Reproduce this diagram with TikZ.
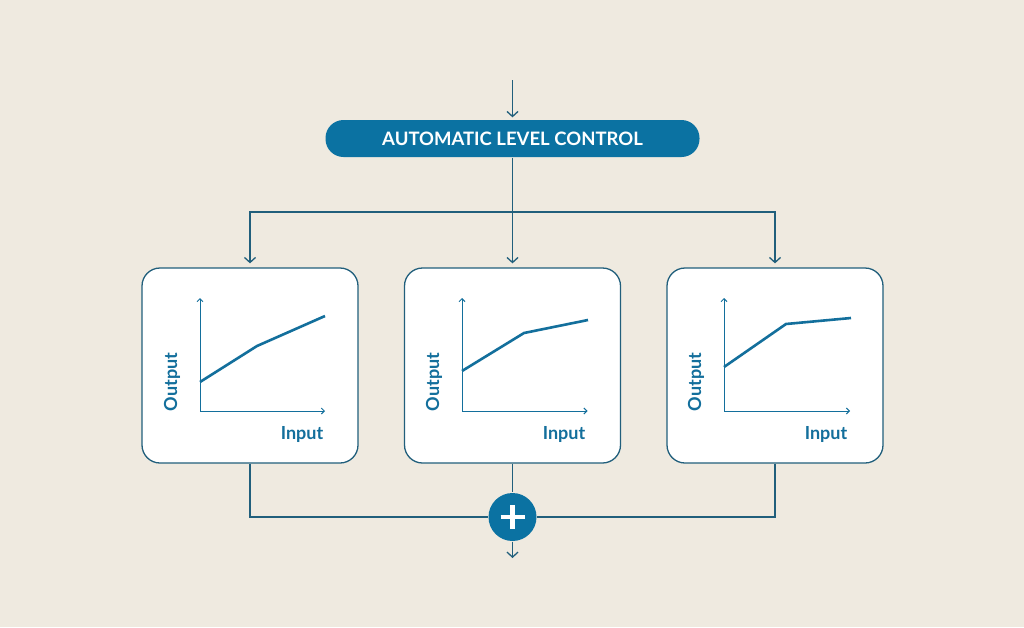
\documentclass[tikz,border=0pt]{standalone}
\usepackage{fontspec}
\setmainfont{Lato}
\usetikzlibrary{positioning,arrows.meta}

\definecolor{paper}{HTML}{EFEAE0}
\definecolor{alcblue}{HTML}{0B72A2}
\definecolor{wire}{HTML}{215F7C}
\definecolor{plotblue}{HTML}{136F9C}

\begin{document}
\begin{tikzpicture}[x=1pt,y=-1pt,>={Straight Barb[length=5pt,width=11pt]},line width=1.3pt,node distance=262.5pt,on grid,
	alc/.style={fill=alcblue,text=white,rounded corners=18pt,minimum width=374pt,minimum height=37pt,font=\fontsize{18.5}{20}\selectfont\bfseries},
	box/.style={draw=wire,fill=white,rounded corners=18pt,minimum width=216pt,minimum height=195pt},
	sum/.style={circle,fill=alcblue,minimum size=48pt,inner sep=0pt},
	axis/.style={draw=plotblue,line width=1pt,{Straight Barb[length=3pt,width=6pt]}-{Straight Barb[length=3pt,width=6pt]}},
	curve/.style={draw=plotblue,line width=2.6pt},
	lbl/.style={text=plotblue,font=\fontsize{18}{20}\selectfont\bfseries}]
	\fill[paper] (0,0) rectangle (1024,627);

	\node[alc] (alc) at (512.5,138.5) {AUTOMATIC LEVEL CONTROL};
	\node[box] (b2) at (512.5,365.5) {};
	\node[box] (b1) [left=of b2] {};
	\node[box] (b3) [right=of b2] {};
	\node[sum] (sum) at (512.5,517) {};
	\coordinate (in) at (512.5,80);
	\coordinate (fork) at (512.5,212);
	\coordinate (out) at (512.5,558);

	% plus sign
	\draw[white,line width=4.5pt] (sum.center) +(-12,0) -- +(12,0) (sum.center) +(0,-12) -- +(0,12);

	% wires
	\draw[wire,->,shorten >=2pt] (in) -- (alc);
	\draw[wire,->,shorten >=4pt] (alc) -- (b2);
	\draw[wire,->,shorten >=4pt] (fork) -| (b1);
	\draw[wire,->,shorten >=4pt] (fork) -| (b3);
	\draw[wire] (b1) |- (sum);
	\draw[wire] (b3) |- (sum);
	\draw[wire] (b2) -- (sum);
	\draw[wire,->] (sum) -- (out);

	% charts
	\begin{scope}[shift={(b1.center)}]
		\draw[axis] (-50,-67.5) |- (75,45.5);
		\draw[curve] (-50,16.5) -- (7,-19.5) -- (75,-49.5);
		\node[lbl,rotate=90] (out1) at (-78,16.5) {Output};
		\node[lbl] (in1) at (52,68.5) {Input};
	\end{scope}
	\begin{scope}[shift={(b2.center)}]
		\draw[axis] (-50.5,-67.5) |- (75,45.5);
		\draw[curve] (-50.5,5.5) -- (11.5,-32.5) -- (75.5,-45.5);
		\node[lbl,rotate=90] (out2) at (-78.5,16.5) {Output};
		\node[lbl] (in2) at (51.5,68.5) {Input};
	\end{scope}
	\begin{scope}[shift={(b3.center)}]
		\draw[axis] (-51,-67.5) |- (75,45.5);
		\draw[curve] (-51,1.5) -- (11,-41.5) -- (76,-47.5);
		\node[lbl,rotate=90] (out3) at (-79,16.5) {Output};
		\node[lbl] (in3) at (51,68.5) {Input};
	\end{scope}
\end{tikzpicture}
\end{document}
